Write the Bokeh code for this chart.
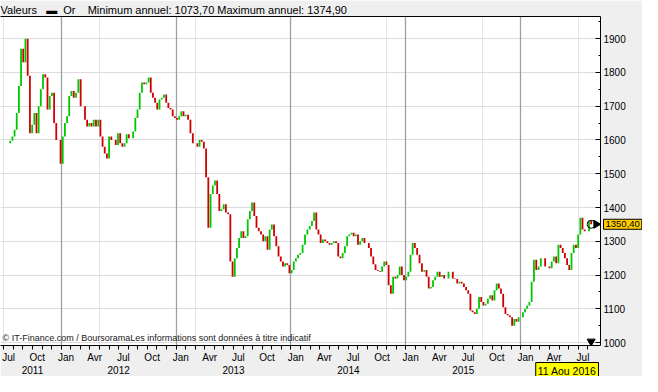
import math
import pandas as pd
from bokeh.plotting import figure
from bokeh.models import LinearAxis, FixedTicker, Range1d, Label, ColumnDataSource, Grid, Text
from bokeh.core.properties import value
from bokeh.embed import file_html
from bokeh.resources import INLINE

# ---- data (weekly closes, gold in USD) ----
first_date = "2011-07-22"
first_open = 1590.0
closes_2011 = [1598, 1610, 1630, 1680, 1760, 1870, 1830, 1900, 1790, 1620, 1645, 1680,
               1620, 1700, 1750, 1795, 1785, 1690, 1730, 1740, 1650, 1600, 1600, 1530]
closes_2012 = [1610, 1650, 1670, 1730, 1745, 1725, 1740, 1780, 1700, 1700, 1660, 1640,
               1650, 1640, 1660, 1640, 1660, 1610, 1580, 1560, 1545, 1610, 1600, 1600,
               1585, 1620, 1590, 1580, 1590, 1617, 1605, 1605, 1625, 1665, 1690, 1740,
               1770, 1765, 1770, 1785, 1740, 1725, 1710, 1690, 1720, 1725, 1735, 1710,
               1695, 1690, 1670, 1665]
closes_2013 = [1660, 1670, 1685, 1670, 1675, 1660, 1620, 1590, 1590, 1580, 1600, 1595,
               1575, 1490, 1340, 1440, 1465, 1480, 1440, 1390, 1395, 1410, 1385, 1380,
               1240, 1195, 1250, 1280, 1310, 1330, 1310, 1315, 1365, 1390, 1415, 1375,
               1340, 1330, 1320, 1300, 1315, 1275, 1335, 1350, 1315, 1285, 1255, 1240,
               1225, 1235, 1230, 1205]
closes_2014 = [1215, 1240, 1250, 1260, 1265, 1290, 1320, 1335, 1345, 1360, 1385, 1335,
               1320, 1295, 1305, 1300, 1295, 1290, 1295, 1300, 1295, 1255, 1250, 1265,
               1285, 1315, 1320, 1325, 1315, 1320, 1290, 1300, 1310, 1295, 1295, 1280,
               1255, 1232, 1215, 1212, 1210, 1225, 1240, 1230, 1170, 1145, 1195, 1190,
               1200, 1225, 1200, 1185]
closes_2015 = [1195, 1210, 1260, 1295, 1280, 1260, 1235, 1210, 1215, 1195, 1160, 1165,
               1185, 1195, 1210, 1195, 1200, 1190, 1190, 1210, 1210, 1190, 1188, 1175,
               1180, 1175, 1165, 1155, 1145, 1095, 1090, 1085, 1100, 1135, 1120, 1110,
               1115, 1130, 1140, 1125, 1155, 1175, 1160, 1145, 1105, 1085, 1080, 1075,
               1050, 1070, 1062, 1075]
closes_2016 = [1075, 1090, 1100, 1110, 1120, 1180, 1245, 1215, 1225, 1250, 1250, 1225,
               1225, 1220, 1240, 1255, 1235, 1290, 1280, 1265, 1250, 1230, 1215, 1265,
               1290, 1280, 1320, 1370, 1335, 1330, 1330, 1360, 1350.4]

y_ticks = [1000, 1100, 1200, 1300, 1400, 1500, 1600, 1700, 1800, 1900]
month_names = ["Jul", "Oct", "Jan", "Avr"]
year_labels = ["2011", "2012", "2013", "2014", "2015"]
NB = "\u00a0"
title_text = ("Valeurs" + NB * 3 + "\u25ac" + NB * 2 + "Or" + NB * 4
              + "Minimum annuel: 1073,70 Maximum annuel: 1374,90")
last_price_text = "1350,40"
last_date_text = "11 Aou 2016"
credit_text = "\u00a9 IT-Finance.com / BoursoramaLes informations sont donn\u00e9es \u00e0 titre indicatif"

closes = closes_2011 + closes_2012 + closes_2013 + closes_2014 + closes_2015 + closes_2016
opens = [first_open] + closes[:-1]

GREEN = "#00C800"
RED = "#D00000"
FONT = "Liberation Sans"

dates = pd.date_range(first_date, periods=len(closes), freq="7D")
# x = months elapsed since 1 Jul 2011
mx = ((dates.year - 2011) * 12 + (dates.month - 7) + (dates.day - 1) / dates.days_in_month).to_numpy()
cols = [GREEN if c >= o else RED for o, c in zip(opens, closes)]
src = ColumnDataSource(dict(x=mx, o=opens, c=closes, col=cols))

X0, X1 = -0.34, 62.33
Y0, Y1 = 991.4, 1965.7

p = figure(width=642, height=376, output_backend="svg", toolbar_location=None,
           x_range=Range1d(X0, X1), y_range=Range1d(Y0, Y1),
           x_axis_location=None, y_axis_location="right",
           min_border_left=0, min_border_right=42, min_border_top=0, min_border_bottom=0)
p.background_fill_color = "white"
p.border_fill_color = "#EFEFEF"
p.outline_line_color = None

# title
p.title.text = title_text
p.title.text_font = FONT
p.title.text_font_size = "11px"
p.title.text_font_style = "normal"
p.title.text_color = "black"
p.title.align = "left"
p.title.standoff = 2

# top line
top_ax = LinearAxis(ticker=FixedTicker(ticks=[]), axis_line_color="black", axis_line_width=1,
                    major_tick_out=0, major_tick_in=0, minor_tick_out=0, minor_tick_in=0,
                    major_label_standoff=0)
p.add_layout(top_ax, "above")

# right y axis
ya = p.yaxis[0]
ya.ticker = FixedTicker(ticks=y_ticks, minor_ticks=[t + 50 for t in y_ticks])
ya.major_tick_in = 5
ya.major_tick_out = 0
ya.minor_tick_in = 2
ya.minor_tick_out = 0
ya.major_label_standoff = 3
ya.axis_line_color = "black"
ya.major_tick_line_color = "black"
ya.minor_tick_line_color = "black"
ya.major_label_text_font = FONT
ya.major_label_text_font_size = "10px"
ya.major_label_text_color = "black"
p.ygrid.ticker = FixedTicker(ticks=y_ticks)
p.ygrid.grid_line_color = "#DCDCDC"
p.ygrid.grid_line_width = 1.2

# x axes (months then years)
n_months = 62
month_starts = list(range(0, n_months))
label_pos = [m + 0.5 for m in range(0, n_months, 3)]
overrides = {pos: month_names[i % 4] for i, pos in enumerate(label_pos)}
xm = LinearAxis(ticker=FixedTicker(ticks=label_pos, minor_ticks=month_starts),
                major_label_overrides=overrides,
                major_tick_in=0, major_tick_out=0, minor_tick_in=0, minor_tick_out=4,
                axis_line_color="black", minor_tick_line_color="black",
                major_label_standoff=2, major_label_text_font=FONT,
                major_label_text_font_size="10px", major_label_text_color="black")
p.add_layout(xm, "below")
year_pos = [3.0, 12.0, 24.0, 36.0, 48.0]
xy = LinearAxis(ticker=FixedTicker(ticks=year_pos),
                major_label_overrides={pos: year_labels[i] for i, pos in enumerate(year_pos)},
                major_tick_in=0, major_tick_out=0, minor_tick_in=0, minor_tick_out=0,
                axis_line_color=None, major_label_standoff=0, major_label_text_font=FONT,
                major_label_text_font_size="10px", major_label_text_color="black")
p.add_layout(xy, "below")

p.add_layout(Grid(dimension=0, ticker=FixedTicker(ticks=[6, 18, 30, 42, 54]),
                  grid_line_color="#A0A0A0", grid_line_width=1.3))

# bars
p.segment(x0="x", y0="o", x1="x", y1="c", line_color="col", line_width=1.8, source=src)

# last price markers
p.scatter(x=[mx[-1]], y=[closes[-1]], marker="circle", size=8, fill_color=None,
          line_color="black", line_width=1)
p.scatter(x=[X1 - 0.45], y=[closes[-1]], marker="triangle", angle=-math.pi / 2, size=8,
          color="black")
p.scatter(x=[mx[-1]], y=[Y0 + 12], marker="inverted_triangle", size=8, color="black")

has_box = "background_fill_color" in Text.properties()
price_kw = dict(x=[X1], y=[closes[-1]], text=[last_price_text], x_offset=3,
                text_font=value(FONT), text_font_size="9.5px", text_baseline="middle",
                text_align="left", text_color="black", level="overlay")
if has_box:
    price_kw.update(background_fill_color="#FFCC00", border_line_color="black", padding=2)
p.text(**price_kw)

date_kw = dict(x=[X1], y=[Y0], text=[last_date_text], x_offset=-2, y_offset=17,
               text_font=value(FONT), text_font_size="10.5px", text_baseline="top",
               text_align="right", text_color="black", level="overlay")
if has_box:
    date_kw.update(background_fill_color="#FFFF00", border_line_color="black", padding=2)
p.text(**date_kw)

p.add_layout(Label(x=X0, y=Y0, x_offset=2, y_offset=3, text=credit_text, text_font=FONT,
                   text_font_size="9px", text_baseline="bottom", text_align="left",
                   text_color="#202020"))

open("out.html", "w").write(file_html(p, INLINE))
